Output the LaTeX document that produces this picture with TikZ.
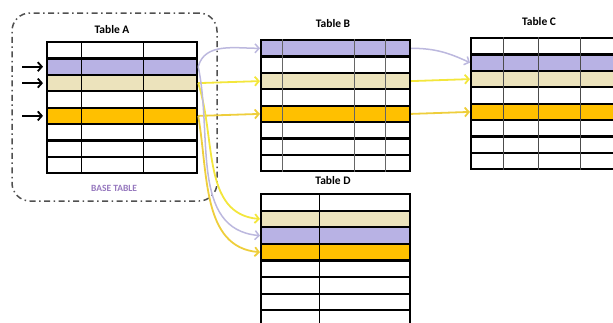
\documentclass[tikz,border=0pt]{standalone}
\usepackage{fontspec}
\setmainfont{Carlito}
\usepackage{tikz}
\usetikzlibrary{arrows,arrows.meta}
\definecolor{lav}{RGB}{184,178,228}
\definecolor{beige}{RGB}{236,227,188}
\definecolor{gold}{RGB}{255,192,0}
\definecolor{lavline}{RGB}{188,184,222}
\definecolor{yelline}{RGB}{243,230,60}
\definecolor{goldline}{RGB}{238,206,60}
\definecolor{basetxt}{RGB}{150,120,190}
\definecolor{boxline}{RGB}{80,80,80}

\tikzset{
	>={Straight Barb[length=4pt,width=9pt]},
	trow/.style={draw, line width=2.2pt, inner sep=0pt, anchor=north west, minimum height=16.4pt},
	ttitle/.style={font=\bfseries\fontsize{11.5}{13}\selectfont},
	basebox/.style={draw=boxline, line width=1.5pt, rounded corners=18pt,
		dash pattern=on 6pt off 3.5pt on 1.5pt off 3.5pt},
	lavlink/.style={lavline, line width=1.5pt, arrows={->}},
	yellink/.style={yelline, line width=1.8pt, arrows={->}},
	goldlink/.style={goldline, line width=1.8pt, arrows={->}},
}

\begin{document}
\begin{tikzpicture}[x=1pt,y=1pt]
		\clip (0,0) rectangle (613,-322);
		\node[basebox, minimum width=205pt, minimum height=188pt] (base) at (114.5,-107) {};
		\node[font=\bfseries\fontsize{9.5}{11}\selectfont, text=basetxt] (bt) at (114,-188) {BASE TABLE};
		\foreach \i/\c in {1/white,2/lav,3/beige,4/white,5/gold,6/white,7/white,8/white} {
			\node[trow, fill=\c, minimum width=150pt] (A\i) at (46,{-41-16.4*(\i-1)}) {};
		}
		\foreach \i/\c in {1/lav,2/white,3/beige,4/white,5/gold,6/white,7/white,8/white} {
			\node[trow, fill=\c, minimum width=149pt] (B\i) at (260,{-39-16.4*(\i-1)}) {};
		}
		\foreach \i/\c in {1/white,2/lav,3/beige,4/white,5/gold,6/white,7/white,8/white} {
			\node[trow, fill=\c, minimum width=150pt] (C\i) at (470,{-37-16.4*(\i-1)}) {};
		}
		\foreach \i/\c in {1/white,2/beige,3/lav,4/gold,5/white,6/white,7/white,8/white} {
			\node[trow, fill=\c, minimum width=149pt, minimum height=16.6pt] (D\i) at (260,{-193-16.6*(\i-1)}) {};
		}
		\foreach \x in {35,97} {
			\draw[line width=1pt] ([xshift=\x pt]A1.north west) -- ([xshift=\x pt]A8.south west);
		}
		\foreach \x in {22,94,125} {
			\draw[line width=1pt, black!60] ([xshift=\x pt]B1.north west) -- ([xshift=\x pt]B8.south west);
		}
		\foreach \x in {33,68,110} {
			\draw[line width=1pt, black!70] ([xshift=\x pt]C1.north west) -- ([xshift=\x pt]C8.south west);
		}
		\draw[line width=1pt] ([xshift=59pt]D1.north west) -- ([xshift=59pt]D8.south west);
		\node[ttitle] (tA) at (112,-30) {Table A};
		\node[ttitle] (tB) at (333,-24) {Table B};
		\node[ttitle] (tC) at (539,-22) {Table C};
		\node[ttitle] (tD) at (333,-181) {Table D};
		\foreach \i in {2,3,5} {
			\coordinate (s\i) at ([xshift=-24pt]A\i.west);
			\draw[line width=1.8pt, arrows={->}] (s\i) -- ([xshift=-3pt]A\i.west);
		}
		\draw [lavlink] (A2.east) to[out=75,in=180] (B1.west);
		\draw [yellink] (A3.east) -- (B3.west);
		\draw [goldlink] (A5.east) -- (B5.west);
		\draw [lavlink] (B1.east) to[out=0,in=155] (C2.west);
		\draw [yellink] (B3.east) -- (C3.west);
		\draw [goldlink] (B5.east) -- (C5.west);
		\draw [yellink] (A3.east) to[out=-72,in=175] (D2.west);
		\draw [lavlink] (A2.east) to[out=-78,in=175] (D3.west);
		\draw [goldlink] (A5.east) to[out=-80,in=175] (D4.west);
\end{tikzpicture}
\end{document}
